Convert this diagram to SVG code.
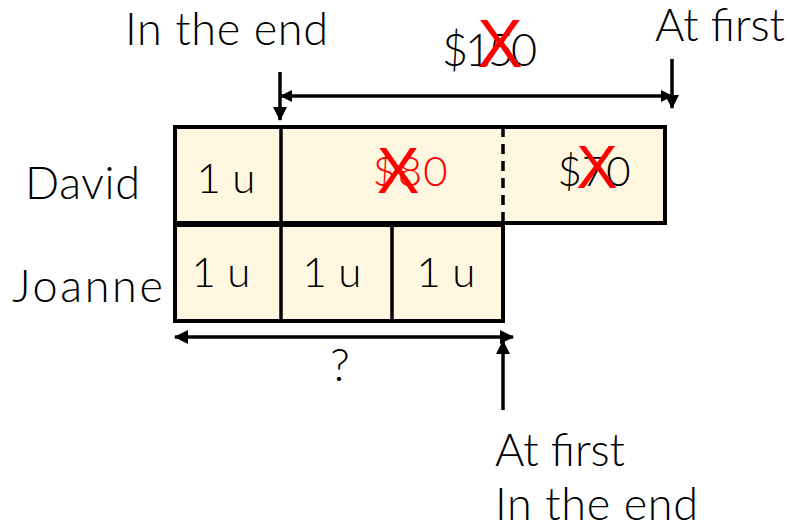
<svg xmlns="http://www.w3.org/2000/svg" width="790" height="528" viewBox="0 0 790 528">
<style>
text{font-family:"Lato","Noto Sans","Liberation Sans",sans-serif;font-weight:300;fill:#000}
.lbl{font-size:45px}
.cell{font-size:42px;text-anchor:middle}
.red{fill:#ff0000}
.x{font-family:"Liberation Sans","Noto Sans",sans-serif;font-weight:400;fill:#ff0000;text-anchor:middle}
.box{fill:#fff7df;stroke:#000;stroke-width:4}
.div{stroke:#000;stroke-width:3.5;fill:none}
.arr{stroke:#000;stroke-width:3.5;fill:none}
</style>
<defs>
<marker id="ah" viewBox="0 0 12 12" refX="11" refY="6" markerWidth="12" markerHeight="12" markerUnits="userSpaceOnUse" orient="auto-start-reverse">
<path d="M0,0 L12,6 L0,12 Z" fill="#000"/>
</marker>
<marker id="ah2" viewBox="0 0 14 14" refX="13" refY="7" markerWidth="14" markerHeight="14" markerUnits="userSpaceOnUse" orient="auto-start-reverse">
<path d="M0,0 L14,7 L0,14 Z" fill="#000"/>
</marker>
</defs>
<g id="labels">
<text class="lbl" x="125" y="45" textLength="203">In the end</text>
<text class="lbl" x="655" y="41" textLength="130">At first</text>
<text class="lbl" x="25" y="199" textLength="115">David</text>
<text class="lbl" x="12" y="302" textLength="151">Joanne</text>
<text class="lbl" x="495" y="466" textLength="130">At first</text>
<text class="lbl" x="495" y="520" textLength="203">In the end</text>
<text class="lbl" x="340" y="381" text-anchor="middle">?</text>
</g>
<g id="total">
<text class="lbl" x="442" y="66" textLength="95">$150</text>
<text class="x" x="500" y="67" style="font-size:68px">X</text>
</g>
<g id="david">
<rect class="box" x="175" y="127" width="490" height="96"/>
<line class="div" x1="281" y1="127" x2="281" y2="223"/>
<line class="div" x1="503" y1="127" x2="503" y2="223" stroke-dasharray="10 7"/>
<text class="cell" x="226" y="193">1 u</text>
<text class="cell red" x="410" y="186" textLength="75">$80</text>
<text class="x" x="398" y="193" style="font-size:64px">X</text>
<text class="cell" x="594" y="186" textLength="73">$70</text>
<text class="x" x="597" y="188" style="font-size:62px">X</text>
</g>
<g id="joanne">
<rect class="box" x="175" y="225" width="328" height="96"/>
<line class="div" x1="281" y1="225" x2="281" y2="321"/>
<line class="div" x1="392" y1="225" x2="392" y2="321"/>
<text class="cell" x="221" y="287">1 u</text>
<text class="cell" x="332" y="287">1 u</text>
<text class="cell" x="446" y="287">1 u</text>
</g>
<g id="connectors">
<line class="arr" x1="281" y1="96" x2="672" y2="96" marker-start="url(#ah)" marker-end="url(#ah)"/>
<line class="arr" x1="280" y1="72" x2="280" y2="120" marker-end="url(#ah2)"/>
<line class="arr" x1="672" y1="59" x2="672" y2="108" marker-end="url(#ah2)"/>
<line class="arr" x1="175" y1="337" x2="513" y2="337" marker-start="url(#ah2)" marker-end="url(#ah2)"/>
<line class="arr" x1="503" y1="410" x2="503" y2="341" marker-end="url(#ah2)"/>
</g>
</svg>
